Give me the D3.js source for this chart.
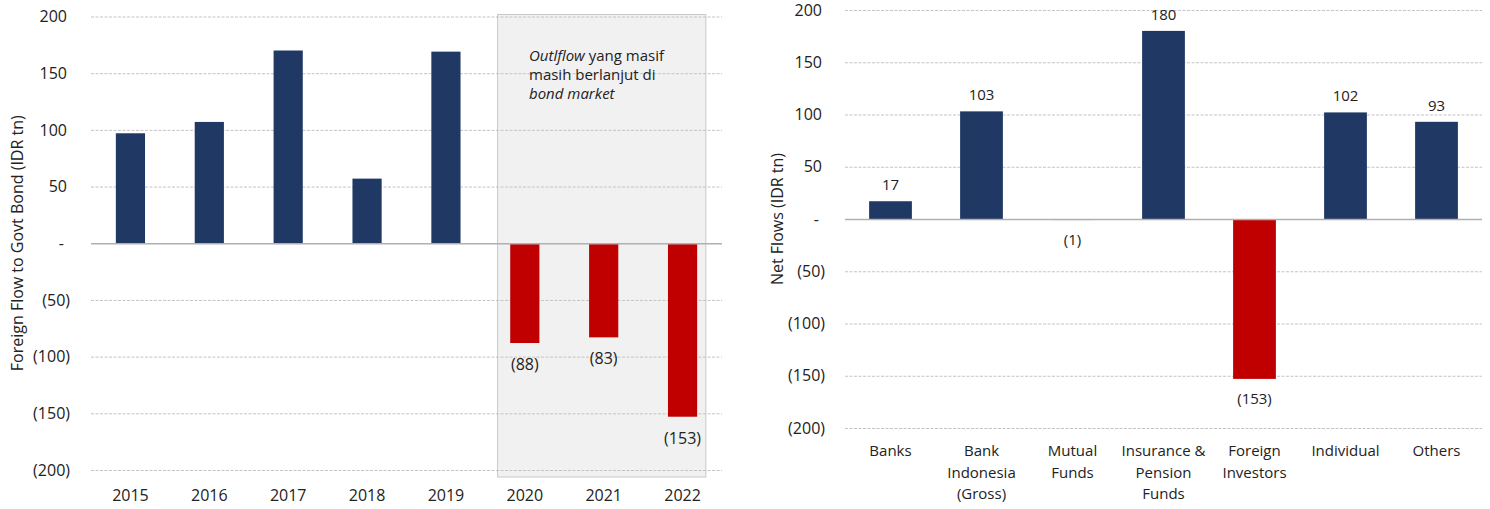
<!DOCTYPE html>
<html><head><meta charset="utf-8">
<script src="https://cdn.jsdelivr.net/npm/d3@7"></script>
<style>body{margin:0;background:#fff}svg{display:block;font-family:"Open Sans","Noto Sans",sans-serif}</style>
</head><body><svg id="c" width="1490" height="509"></svg>
<script>
const leftYears = ["2015","2016","2017","2018","2019","2020","2021","2022"];
const leftValues = [97, 107, 170, 57, 169, -88, -83, -153];
const leftTicks = [200,150,100,50,0,-50,-100,-150,-200];
const rightCats = [["Banks"],["Bank","Indonesia","(Gross)"],["Mutual","Funds"],["Insurance &","Pension","Funds"],["Foreign","Investors"],["Individual"],["Others"]];
const rightValues = [17, 103, -1, 180, -153, 102, 93];
const rightTicks = [200,150,100,50,0,-50,-100,-150,-200];
const shadedYears = ["2020","2021","2022"];

const NAVY = "#203864", RED = "#c00000";
const svg = d3.select("#c");
const fmt = v => v === 0 ? "-" : v < 0 ? "(" + Math.abs(v) + ")" : String(v);

function panel(o){
  const g = svg.append("g");
  const x = d3.scaleBand().domain(o.cats).range([o.x0, o.x1]).paddingInner(o.pad).paddingOuter(o.pad/2);
  const y = d3.scaleLinear().domain([-200,200]).range([o.y0, o.y1]);
  if (o.shade) o.shade(g, x, y);
  g.selectAll("line.grid").data(o.ticks.filter(t=>t!==0)).join("line")
    .attr("x1", o.x0).attr("x2", o.x1).attr("y1", d=>y(d)+0.5).attr("y2", d=>y(d)+0.5)
    .attr("stroke", "#c4c4c4").attr("stroke-width", 1).attr("stroke-dasharray", "3,1.5");
  const ax = d3.axisLeft(y).tickValues(o.ticks).tickSize(0).tickFormat(fmt);
  const ag = g.append("g").attr("transform", `translate(${o.labelX},0)`).call(ax);
  ag.select(".domain").remove();
  ag.selectAll("text").attr("font-size", 16).attr("fill", "#222").attr("font-family", "Open Sans")
    .attr("dx", d => d < 0 ? 3 : (d===0 ? -3 : 0));
  g.selectAll("rect.bar").data(o.cats.map((c,i)=>({c, v:o.vals[i]}))).join("rect")
    .attr("x", d=>x(d.c)).attr("width", x.bandwidth())
    .attr("y", d=>y(Math.max(0,d.v))).attr("height", d=>Math.abs(y(d.v)-y(0)))
    .attr("fill", d=>d.v<0?RED:NAVY);
  g.append("line").attr("x1", o.x0).attr("x2", o.x1).attr("y1", y(0)+0.5).attr("y2", y(0)+0.5)
    .attr("stroke", "#b0b0b0").attr("stroke-width", 1.5);
  g.append("text").attr("transform", `translate(${o.titleX},${y(0)}) rotate(-90)`)
    .attr("text-anchor","middle").attr("dy","0.35em").attr("font-size",16).attr("fill","#222").text(o.title);
  return {g,x,y};
}

// Left
const L = panel({cats:leftYears, vals:leftValues, ticks:leftTicks, x0:91, x1:722, y0:470, y1:16.5, pad:0.63,
  labelX:70, titleX:17, title:"Foreign Flow to Govt Bond (IDR tn)",
  shade:(g,x,y)=>{
    const xa = x(shadedYears[0]) - x.step()*0.16;
    const xb = x(shadedYears[2]) + x.bandwidth() + x.step()*0.11;
    g.append("rect").attr("x", xa).attr("y", y(200)-2)
      .attr("width", xb - xa).attr("height", y(-200)-y(200)+9)
      .attr("fill","#f1f1f1").attr("stroke","#c8c8c8").attr("stroke-width",1);
  }});
L.g.selectAll("text.xl").data(leftYears).join("text")
  .attr("x", d=>L.x(d)+L.x.bandwidth()/2).attr("y", 501).attr("text-anchor","middle")
  .attr("font-size",16).attr("fill","#222").text(d=>d);
L.g.selectAll("text.vl").data(leftYears.map((c,i)=>({c,v:leftValues[i]})).filter(d=>d.v<0)).join("text")
  .attr("x", d=>L.x(d.c)+L.x.bandwidth()/2).attr("y", d=>L.y(d.v)+27).attr("text-anchor","middle")
  .attr("font-size",16).attr("fill","#222").text(d=>fmt(d.v));
const ann = L.g.append("text").attr("font-size",15).attr("fill","#222");
const l1 = ann.append("tspan").attr("x",529).attr("y",61);
l1.append("tspan").attr("font-style","italic").text("Outlflow");
l1.append("tspan").text(" yang masif");
ann.append("tspan").attr("x",529).attr("y",80).text("masih berlanjut di");
ann.append("tspan").attr("x",529).attr("y",99).attr("font-style","italic").text("bond market");

// Right
const rKeys = rightCats.map(c=>c.join(" "));
const R = panel({cats:rKeys, vals:rightValues, ticks:rightTicks, x0:845, x1:1482, y0:428, y1:10, pad:0.53,
  labelX:825, titleX:777, title:"Net Flows (IDR tn)"});
rightCats.forEach((lines,i)=>{
  const t = R.g.append("text").attr("text-anchor","middle").attr("font-size",15).attr("fill","#222");
  lines.forEach((ln,j)=>t.append("tspan").attr("x", R.x(rKeys[i])+R.x.bandwidth()/2).attr("y", 456+j*21.5).text(ln));
});
R.g.selectAll("text.vl").data(rKeys.map((c,i)=>({c,v:rightValues[i]}))).join("text")
  .attr("x", d=>R.x(d.c)+R.x.bandwidth()/2)
  .attr("y", d=> d.v>=0 ? R.y(d.v)-11 : R.y(d.v)+25)
  .attr("text-anchor","middle").attr("font-size",15).attr("fill","#222").text(d=>fmt(d.v));
</script></body></html>
